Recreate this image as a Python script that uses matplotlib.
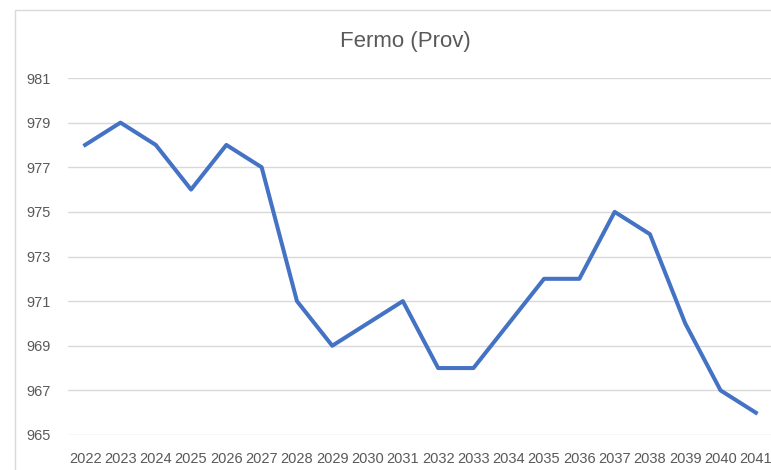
import matplotlib

matplotlib.use("Agg")
import matplotlib.pyplot as plt
from matplotlib.patches import Rectangle

years = [str(y) for y in range(2022, 2042)]
values = [978, 979, 978, 976, 978, 977, 971, 969, 970, 971,
          968, 968, 970, 972, 972, 975, 974, 970, 967, 966]
y_ticks = [965, 967, 969, 971, 973, 975, 977, 979, 981]

TEXT = "#595959"
GRID = "#D9D9D9"
LINE = "#4472C4"

plt.rcParams["font.family"] = ["Liberation Sans", "DejaVu Sans"]

fig = plt.figure(figsize=(7.71, 4.70), dpi=100)

# outer chart border (cropped on right and bottom)
fig.patches.append(Rectangle((15 / 771, -0.1), 1.2, 1.1 - 10 / 470,
                             transform=fig.transFigure, fill=False,
                             edgecolor="#D9D9D9", linewidth=1.0))

ax = fig.add_axes([67.5 / 771, 35 / 470, 706 / 771, 357 / 470])
x = list(range(len(years)))
ax.plot(x, values, color=LINE, linewidth=2.9, solid_joinstyle="round")

ax.set_xlim(-0.5, len(years) - 0.5)
ax.set_ylim(965, 981)
ax.set_yticks(y_ticks)
ax.set_xticks(x)
ax.set_xticklabels(years)
ax.grid(axis="y", color=GRID, linewidth=1.0)
ax.set_axisbelow(True)
for s in ax.spines.values():
    s.set_visible(False)
ax.tick_params(length=0, colors=TEXT, labelsize=10.5)
ax.tick_params(axis="x", pad=12)
ax.tick_params(axis="y", pad=12)

fig.text(405 / 771, 1 - 42 / 470, "Fermo (Prov)", ha="center", va="center",
         fontsize=16, color=TEXT)

fig.savefig("out.png", dpi=100)
